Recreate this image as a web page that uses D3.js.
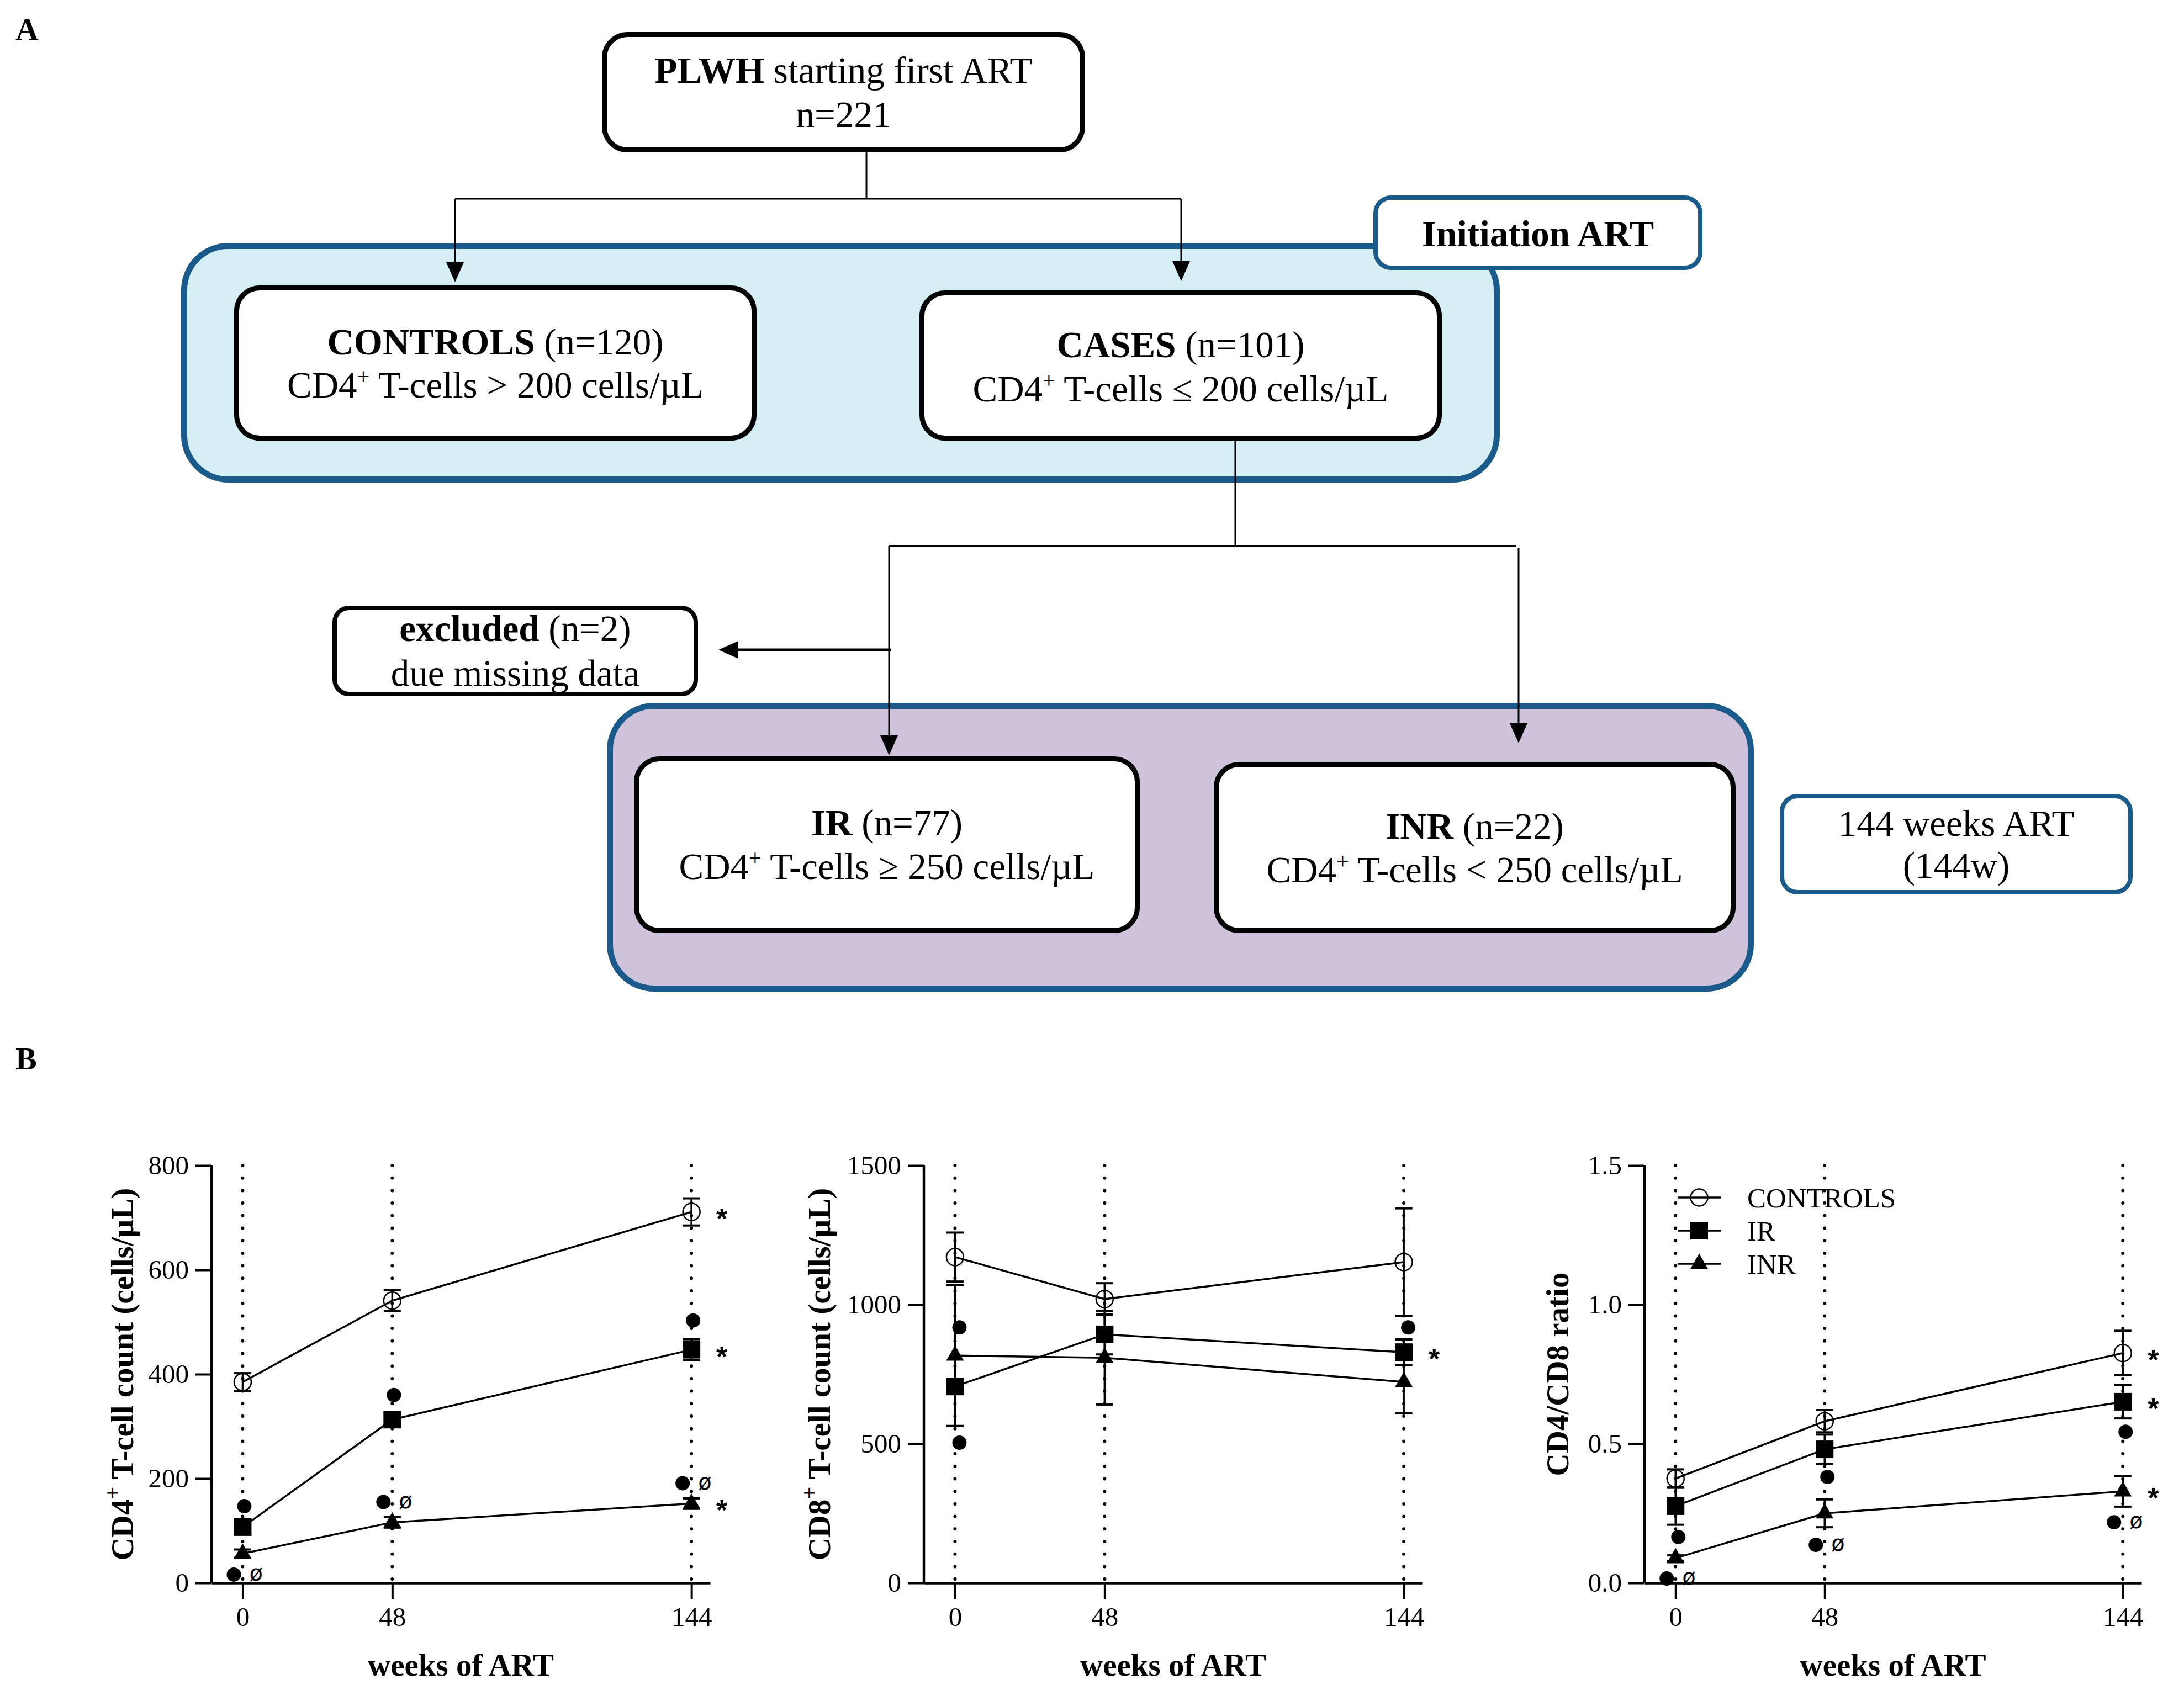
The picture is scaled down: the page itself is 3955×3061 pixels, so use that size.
<!DOCTYPE html>
<html><head><meta charset="utf-8">
<script src="https://cdn.jsdelivr.net/npm/d3@7"></script>
<style>body{margin:0;background:#fff} svg{display:block}</style>
</head><body>
<svg id="fig" width="3955" height="3061"></svg>
<script>
// ---------------- DATA ----------------
const weeks = [0, 48, 144];
const weekTicks = [0, 48, 144];
const seriesNames = ["CONTROLS", "IR", "INR"];

// CD4+ T-cell count (cells/µL)
const cd4Controls = [385, 541, 711];
const cd4ControlsErr = [17, 20, 26];
const cd4IR = [107, 313, 447];
const cd4IRErr = [12, 12, 20];
const cd4INR = [56, 116, 152];
const cd4INRErr = [8, 10, 10];
const cd4DotWeeks = [0, 0, 48, 48, 144, 144];
const cd4DotValues = [147, 16, 360, 155, 503, 191];
const cd4DotFlag = [false, true, false, true, false, true];
const cd4Stars = [true, true, true];
const cd4Ticks = [0, 200, 400, 600, 800];

// CD8+ T-cell count (cells/µL)
const cd8Controls = [1171, 1020, 1153];
const cd8ControlsErr = [88, 57, 193];
const cd8IR = [706, 893, 829];
const cd8IRErr = [15, 72, 46];
const cd8INR = [817, 809, 722];
const cd8INRErr = [253, 168, 113];
const cd8DotWeeks = [0, 0, 144];
const cd8DotValues = [918, 504, 918];
const cd8DotFlag = [false, false, false];
const cd8Stars = [false, true, false];
const cd8Ticks = [0, 500, 1000, 1500];

// CD4/CD8 ratio
const ratioControls = [0.375, 0.581, 0.826];
const ratioControlsErr = [0.033, 0.04, 0.08];
const ratioIR = [0.276, 0.48, 0.651];
const ratioIRErr = [0.067, 0.053, 0.06];
const ratioINR = [0.089, 0.25, 0.329];
const ratioINRErr = [0.01, 0.05, 0.055];
const ratioDotWeeks = [0, 0, 48, 48, 144, 144];
const ratioDotValues = [0.165, 0.016, 0.381, 0.137, 0.543, 0.218];
const ratioDotFlag = [false, true, false, true, false, true];
const ratioStars = [true, true, true];
const ratioTicks = [0, 0.5, 1.0, 1.5];

// ---------------- STYLE / LAYOUT ----------------
const SERIF = "'Liberation Serif','Times New Roman',serif";
const SANS = "'Liberation Sans',Arial,sans-serif";
const BLUE = "#1b5b8b";
const LIGHTBLUE = "#d5eff5";
const LAVENDER = "#cfc3dc";
const FS = 67;

const svg = d3.select("#fig");

// ---------- Panel A : flowchart ----------
const A = svg.append("g");
function box(b) {
  const sw = b.sw;
  A.append("rect")
    .attr("x", b.x0 + sw / 2).attr("y", b.y0 + sw / 2)
    .attr("width", b.x1 - b.x0 - sw).attr("height", b.y1 - b.y0 - sw)
    .attr("rx", b.r).attr("ry", b.r)
    .attr("fill", b.fill).attr("stroke", b.stroke).attr("stroke-width", sw);
  if (b.lines) {
    const cx = (b.x0 + b.x1) / 2;
    b.lines.forEach((segs, i) => {
      const t = A.append("text").attr("x", cx).attr("y", b.base[i])
        .attr("text-anchor", "middle").attr("font-family", SERIF).attr("font-size", FS);
      let raised = false;
      segs.forEach(s => {
        const ts = t.append("tspan").text(s[0]);
        const st = s[1] || "";
        if (st.includes("b")) ts.attr("font-weight", "bold");
        if (st.includes("s")) { ts.attr("font-size", FS * 0.6).attr("dy", -FS * 0.38); raised = true; }
        else if (raised) { ts.attr("dy", FS * 0.38); raised = false; }
      });
    });
  }
}
const cd4Line = (rel, val) => [["CD4"], ["+", "s"], [" T-cells " + rel + " " + val + " cells/µL"]];

const bigBoxes = [
  { x0: 328, y0: 440, x1: 2716, y1: 874, r: 80, sw: 11, stroke: BLUE, fill: LIGHTBLUE },
  { x0: 1099, y0: 1273, x1: 3176, y1: 1796, r: 80, sw: 11, stroke: BLUE, fill: LAVENDER }
];
const boxes = [
  { x0: 1090, y0: 58, x1: 1965, y1: 276, r: 42, sw: 9, stroke: "#000", fill: "#fff",
    lines: [[["PLWH", "b"], [" starting first ART"]], [["n=221"]]], base: [150, 230] },
  { x0: 2487, y0: 354, x1: 3083, y1: 489, r: 28, sw: 8, stroke: BLUE, fill: "#fff",
    lines: [[["Initiation ART", "b"]]], base: [446] },
  { x0: 424, y0: 517, x1: 1370, y1: 798, r: 42, sw: 9, stroke: "#000", fill: "#fff",
    lines: [[["CONTROLS", "b"], [" (n=120)"]], cd4Line(">", "200")], base: [642, 720] },
  { x0: 1665, y0: 526, x1: 2611, y1: 798, r: 42, sw: 9, stroke: "#000", fill: "#fff",
    lines: [[["CASES", "b"], [" (n=101)"]], cd4Line("≤", "200")], base: [647, 727] },
  { x0: 602, y0: 1097, x1: 1264, y1: 1261, r: 26, sw: 8, stroke: "#000", fill: "#fff",
    lines: [[["excluded", "b"], [" (n=2)"]], [["due missing data"]]], base: [1161, 1242] },
  { x0: 1148, y0: 1370, x1: 2064, y1: 1690, r: 42, sw: 9, stroke: "#000", fill: "#fff",
    lines: [[["IR", "b"], [" (n=77)"]], cd4Line("≥", "250")], base: [1513, 1592] },
  { x0: 2198, y0: 1380, x1: 3143, y1: 1690, r: 42, sw: 9, stroke: "#000", fill: "#fff",
    lines: [[["INR", "b"], [" (n=22)"]], cd4Line("<", "250")], base: [1519, 1598] },
  { x0: 3223, y0: 1438, x1: 3862, y1: 1620, r: 28, sw: 8, stroke: BLUE, fill: "#fff",
    lines: [[["144 weeks ART"]], [["(144w)"]]], base: [1514, 1590] }
];
bigBoxes.forEach(box);
boxes.forEach(box);

// connectors
const segs = [
  [1569, 276, 1569, 360], [824, 360, 2139, 360],
  [2237, 798, 2237, 989], [1610, 989, 2745, 989]
];
const arrows = [
  { x1: 824, y1: 360, x2: 824, y2: 511, w: 3 },
  { x1: 2139, y1: 360, x2: 2139, y2: 509, w: 3 },
  { x1: 1610, y1: 989, x2: 1610, y2: 1368, w: 3 },
  { x1: 2750, y1: 993, x2: 2750, y2: 1346, w: 3 },
  { x1: 1614, y1: 1177, x2: 1301, y2: 1177, w: 5 }
];
segs.forEach(s => A.append("line").attr("x1", s[0]).attr("y1", s[1]).attr("x2", s[2]).attr("y2", s[3])
  .attr("stroke", "#000").attr("stroke-width", 3));
arrows.forEach(a => {
  const dx = a.x2 - a.x1, dy = a.y2 - a.y1, L = Math.hypot(dx, dy);
  const ux = dx / L, uy = dy / L, hl = 36, hw = 16;
  A.append("line").attr("x1", a.x1).attr("y1", a.y1)
    .attr("x2", a.x2 - ux * hl * 0.8).attr("y2", a.y2 - uy * hl * 0.8)
    .attr("stroke", "#000").attr("stroke-width", a.w);
  const bx = a.x2 - ux * hl, by = a.y2 - uy * hl;
  A.append("path").attr("d", `M${a.x2},${a.y2}L${bx - uy * hw},${by + ux * hw}L${bx + uy * hw},${by - ux * hw}Z`)
    .attr("fill", "#000");
});

// panel labels
svg.append("text").attr("x", 28).attr("y", 73).attr("font-family", SERIF).attr("font-weight", "bold")
  .attr("font-size", 58).text("A");
svg.append("text").attr("x", 28).attr("y", 1937).attr("font-family", SERIF).attr("font-weight", "bold")
  .attr("font-size", 58).text("B");

// ---------- Panel B : line charts ----------
const yTop = 2111, yBottom = 2867;
const weekDomain = [-10, 150];

const panels = [
  { x0: 383, x1: 1286, max: 800, ticks: cd4Ticks, fmt: d3.format("d"),
    series: [[cd4Controls, cd4ControlsErr], [cd4IR, cd4IRErr], [cd4INR, cd4INRErr]],
    dotW: cd4DotWeeks, dotV: cd4DotValues, dotF: cd4DotFlag, stars: cd4Stars, shift: 3,
    title: [["CD4"], ["+", "s"], [" T-cell count (cells/µL)"]], titleX: 241 },
  { x0: 1673, x1: 2576, max: 1500, ticks: cd8Ticks, fmt: d3.format("d"),
    series: [[cd8Controls, cd8ControlsErr], [cd8IR, cd8IRErr], [cd8INR, cd8INRErr]],
    dotW: cd8DotWeeks, dotV: cd8DotValues, dotF: cd8DotFlag, stars: cd8Stars, shift: 8,
    title: [["CD8"], ["+", "s"], [" T-cell count (cells/µL)"]], titleX: 1503 },
  { x0: 2978, x1: 3878, max: 1.5, ticks: ratioTicks, fmt: d3.format(".1f"),
    series: [[ratioControls, ratioControlsErr], [ratioIR, ratioIRErr], [ratioINR, ratioINRErr]],
    dotW: ratioDotWeeks, dotV: ratioDotValues, dotF: ratioDotFlag, stars: ratioStars, shift: 5,
    title: [["CD4/CD8 ratio"]], titleX: 2840, legend: true }
];

const triSize = 443;
function marker(g, kind, cx, cy) {
  if (kind === 0) {
    g.append("circle").attr("cx", cx).attr("cy", cy).attr("r", 15.5)
      .attr("fill", "none").attr("stroke", "#000").attr("stroke-width", 2.5);
  } else if (kind === 1) {
    g.append("rect").attr("x", cx - 16).attr("y", cy - 16).attr("width", 32).attr("height", 32).attr("fill", "#000");
  } else {
    g.append("path").attr("d", d3.symbol(d3.symbolTriangle, triSize)()).attr("transform", `translate(${cx},${cy})`)
      .attr("fill", "#000");
  }
}

panels.forEach(p => {
  const g = svg.append("g");
  const x = d3.scaleLinear().domain(weekDomain).range([p.x0, p.x1]);
  const y = d3.scaleLinear().domain([0, p.max]).range([yBottom, yTop]);

  // dotted verticals
  weeks.forEach(w => g.append("line").attr("x1", x(w)).attr("x2", x(w)).attr("y1", y(p.max)).attr("y2", y(0))
    .attr("stroke", "#000").attr("stroke-width", 6).attr("stroke-linecap", "round")
    .attr("stroke-dasharray", "0 22.7"));

  // axes
  const ya = g.append("g").attr("transform", `translate(${p.x0},0)`)
    .call(d3.axisLeft(y).tickValues(p.ticks).tickFormat(p.fmt).tickSize(29).tickSizeOuter(0).tickPadding(12));
  const xa = g.append("g").attr("transform", `translate(0,${yBottom})`)
    .call(d3.axisBottom(x).tickValues(weekTicks).tickFormat(d3.format("d")).tickSize(29).tickSizeOuter(0).tickPadding(14));
  [ya, xa].forEach(a => {
    a.select(".domain").attr("stroke-width", 4.5).attr("stroke", "#000");
    a.selectAll(".tick line").attr("stroke-width", 4).attr("stroke", "#000");
    a.selectAll(".tick text").attr("font-family", SERIF).attr("font-size", 49).attr("fill", "#000");
  });
  ya.selectAll(".domain").attr("d", `M0,${yBottom}V${yTop}`);

  // axis titles
  g.append("text").attr("x", (p.x0 + p.x1) / 2).attr("y", 3035).attr("text-anchor", "middle")
    .attr("font-family", SERIF).attr("font-weight", "bold").attr("font-size", 57).text("weeks of ART");
  const tt = g.append("text").attr("transform", `translate(${p.titleX},${(yTop + yBottom) / 2}) rotate(-90)`)
    .attr("text-anchor", "middle").attr("font-family", SERIF).attr("font-weight", "bold").attr("font-size", 57);
  let raised = false;
  p.title.forEach(s => {
    const ts = tt.append("tspan").text(s[0]);
    if (s[1] === "s") { ts.attr("font-size", 40).attr("dy", -24); raised = true; }
    else if (raised) { ts.attr("dy", 24); raised = false; }
  });

  // data lines
  const line = d3.line().x((d, i) => x(weeks[i])).y(d => y(d));
  p.series.forEach(s => g.append("path").attr("d", line(s[0])).attr("fill", "none")
    .attr("stroke", "#000").attr("stroke-width", 3.5));

  // error bars
  p.series.forEach(s => s[0].forEach((m, i) => {
    const cx = x(weeks[i]), e = s[1][i];
    g.append("line").attr("x1", cx).attr("x2", cx).attr("y1", y(m - e)).attr("y2", y(m + e))
      .attr("stroke", "#000").attr("stroke-width", 3.5);
    [m - e, m + e].forEach(v => g.append("line").attr("x1", cx - 15.5).attr("x2", cx + 15.5)
      .attr("y1", y(v)).attr("y2", y(v)).attr("stroke", "#000").attr("stroke-width", 4));
  }));

  // markers
  p.series.forEach((s, k) => s[0].forEach((m, i) => marker(g, k, x(weeks[i]), y(m))));

  // extra filled dots and ø flags
  p.dotV.forEach((v, i) => {
    const cx = x(p.dotW[i]) + (p.dotF[i] ? -16 : p.shift);
    g.append("circle").attr("cx", cx).attr("cy", y(v)).attr("r", 13).attr("fill", "#000");
    if (p.dotF[i]) g.append("text").attr("x", cx + 28).attr("y", y(v) + 11)
      .attr("font-family", "'DejaVu Sans',sans-serif").attr("font-size", 40).text("ø");
  });

  // significance stars
  p.stars.forEach((on, k) => {
    if (!on) return;
    const last = p.series[k][0].length - 1;
    g.append("text").attr("x", x(weeks[last]) + 55).attr("y", y(p.series[k][0][last]) + 30)
      .attr("text-anchor", "middle").attr("font-family", SANS).attr("font-weight", "bold")
      .attr("font-size", 52).text("*");
  });

  // legend
  if (p.legend) {
    seriesNames.forEach((n, k) => {
      const ry = yTop + 58 + k * 60, lx = p.x0 + 60;
      g.append("line").attr("x1", lx).attr("x2", lx + 78).attr("y1", ry).attr("y2", ry)
        .attr("stroke", "#000").attr("stroke-width", 3.5);
      marker(g, k, lx + 39, ry);
      g.append("text").attr("x", lx + 126).attr("y", ry + 18).attr("font-family", SERIF)
        .attr("font-size", 51).text(n);
    });
  }
});
</script>
</body></html>
